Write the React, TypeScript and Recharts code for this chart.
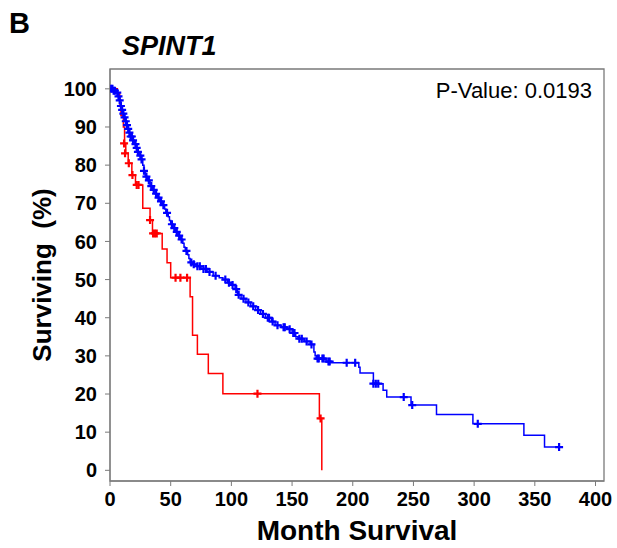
import React from "react";
import {
   ComposedChart,
   Line,
   Scatter,
   XAxis,
   YAxis,
   ReferenceArea,
   Label,
} from "recharts";

// axis setup
const xTicks = [0, 50, 100, 150, 200, 250, 300, 350, 400];
const yTicks = [0, 10, 20, 30, 40, 50, 60, 70, 80, 90, 100];
const xDomain = [0, 407];
const yDomain = [-2.8, 105.2];

// blue group (step start points: month, % surviving)
const blueMonths = [
   0, 3, 5, 7, 8, 9, 10, 11, 12, 13, 14, 15, 16, 17, 19, 20, 22, 23, 24, 26,
   27, 28, 29, 31, 33, 35, 37, 39, 41, 43, 45, 46, 48, 49, 50, 52, 54, 56, 58,
   60, 61, 62, 64, 65, 66, 68, 71, 75, 80, 85, 90, 93, 97, 100, 103, 105, 108,
   112, 116, 120, 124, 128, 133, 136, 141, 146, 150, 153, 155, 160, 165, 168,
   169, 170, 178, 182, 205, 206, 217, 225, 228, 248, 269, 299, 341, 358, 371,
];
const blueSurv = [
   100, 99.5, 99, 98, 97, 95.5, 94.5, 93.5, 92.5, 91.5, 90.5, 89.5, 88.5,
   87.5, 86.5, 85.5, 84.5, 83.5, 82.5, 81.5, 80, 78.5, 77, 76, 74.5, 73.5,
   72.5, 71.5, 70.5, 69.5, 68.5, 67.5, 66.5, 65.5, 64.5, 63.5, 62.5, 61.5,
   60.5, 59.5, 58.5, 57.5, 56.5, 55.5, 54.5, 54, 53.5, 52.8, 52, 51, 50.5, 50,
   49.2, 48.6, 47.5, 46, 45, 44, 43, 42, 41, 40, 39, 38, 37.5, 37, 36, 35,
   34.5, 33.8, 33, 31, 30, 29.3, 28.5, 28.2, 27, 25.5, 22.7, 21, 19.2, 17.1,
   14.6, 12.2, 9.2, 6.1, 6.1,
];
const blueCensorMonths = [
   1, 2, 3, 4, 6, 7, 8, 9, 10, 11, 12, 13, 14, 15, 16, 17, 18, 19, 21, 22, 23,
   25, 26, 28, 30, 32, 34, 36, 38, 40, 42, 44, 47, 51, 53, 55, 57, 59, 63, 67,
   69, 72, 74, 77, 79, 82, 87, 95, 98, 101, 104, 106, 110, 114, 118, 122, 126,
   130, 131, 134, 138, 143, 144, 148, 151, 152, 156, 158, 162, 166, 171, 172,
   175, 176, 180, 181, 195, 202, 217, 219, 221, 242, 249, 303, 370,
];
const blueCensorSurv = [
   100, 100, 99.5, 99.5, 99, 98, 97, 95.5, 94.5, 93.5, 92.5, 91.5, 90.5, 89.5,
   88.5, 87.5, 87.5, 86.5, 85.5, 84.5, 83.5, 82.5, 81.5, 78.5, 77, 76, 74.5,
   73.5, 72.5, 71.5, 70.5, 69.5, 67.5, 64.5, 63.5, 62.5, 61.5, 60.5, 57.5,
   54.5, 54, 53.5, 53.5, 52.8, 52.8, 52, 51, 50, 49.2, 48.6, 47.5, 46, 45, 44,
   43, 42, 41, 40, 40, 39, 38, 37.5, 37.5, 37, 36, 36, 34.5, 34.5, 33.8, 33,
   29.3, 29.3, 29.3, 29.3, 28.5, 28.5, 28.2, 28.2, 22.7, 22.7, 22.7, 19.2,
   17.1, 12.2, 6.1,
];

// red group
const redMonths = [
   0, 6, 8, 9, 11, 12, 13, 15, 18, 21, 27, 33, 35, 43, 47, 50, 66, 68, 72, 81,
   93, 172.5, 174.5,
];
const redSurv = [
   100, 99, 96, 93, 90, 85.7, 83.1, 80.5, 77.4, 74.8, 68.7, 65.6, 62.1, 58,
   54.4, 50.5, 45.5, 35.4, 30.4, 25.4, 20.1, 13.6, 0,
];
const redCensorMonths = [
   11.6, 12.4, 15.5, 18.5, 22, 23.5, 33, 35.5, 37, 38.5, 54, 58, 63.5, 121.5,
   173.5,
];
const redCensorSurv = [
   85.7, 83.1, 80.5, 77.4, 74.8, 74.8, 65.6, 62.1, 62.1, 62.1, 50.5, 50.5,
   50.5, 20.1, 13.6,
];

const pairUp = function (months: number[], surv: number[]) {
   return months.map(function (t, i) {
      return { t: t, s: surv[i] };
   });
};

const blueCurve = pairUp(blueMonths, blueSurv);
const blueCensored = pairUp(blueCensorMonths, blueCensorSurv);
const redCurve = pairUp(redMonths, redSurv);
const redCensored = pairUp(redCensorMonths, redCensorSurv);

const FONT = "'Liberation Sans', Arial, sans-serif";
const BLUE = "#0000ff";
const RED = "#ff0000";
const FRAME = "#7a7a7a";

const plusMark = function (color: string) {
   return function (props: any) {
      const { cx, cy } = props;
      if (cx == null || cy == null) return <g />;
      return (
         <path
            d={`M${cx - 4},${cy}h8M${cx},${cy - 4}v8`}
            stroke={color}
            strokeWidth={2.2}
            fill="none"
         />
      );
   };
};

const tickStyle = {
   fontSize: 20,
   fontWeight: 700,
   fill: "#000",
   fontFamily: FONT,
};

export default function App() {
   return (
      <div
         style={{
            position: "absolute",
            left: 0,
            top: 0,
            width: 617,
            height: 548,
            background: "#fff",
            fontFamily: FONT,
         }}
      >
         <ComposedChart
            width={617}
            height={548}
            margin={{ top: 69, right: 13, left: 60, bottom: 37 }}
         >
            <XAxis
               type="number"
               dataKey="t"
               domain={xDomain}
               ticks={xTicks}
               allowDataOverflow
               height={30}
               tickSize={5}
               tickMargin={6}
               stroke={FRAME}
               tick={tickStyle}
            >
               <Label
                  content={function (props: any) {
                     const vb = props.viewBox;
                     return (
                        <text
                           x={vb.x + vb.width / 2}
                           y={vb.y + 59}
                           textAnchor="middle"
                           fontSize={28}
                           fontWeight={700}
                           fontFamily={FONT}
                           fill="#000"
                        >
                           Month Survival
                        </text>
                     );
                  }}
               />
            </XAxis>
            <YAxis
               type="number"
               dataKey="s"
               domain={yDomain}
               ticks={yTicks}
               allowDataOverflow
               width={50}
               tickSize={5}
               tickMargin={8}
               stroke={FRAME}
               tick={tickStyle}
            >
               <Label
                  content={function (props: any) {
                     const vb = props.viewBox;
                     const cx = vb.x - 18;
                     const cy = vb.y + vb.height / 2;
                     return (
                        <text
                           x={cx}
                           y={cy}
                           transform={`rotate(-90 ${cx} ${cy})`}
                           textAnchor="middle"
                           dominantBaseline="central"
                           fontSize={26}
                           fontWeight={700}
                           fontFamily={FONT}
                           fill="#000"
                           style={{ whiteSpace: "pre" }}
                        >
                           {"Surviving  (%)"}
                        </text>
                     );
                  }}
               />
            </YAxis>
            <ReferenceArea
               x1={xDomain[0]}
               x2={xDomain[1]}
               y1={yDomain[0]}
               y2={yDomain[1]}
               fill="none"
               stroke={FRAME}
               strokeWidth={1.3}
            />
            <Line
               data={blueCurve}
               dataKey="s"
               type="stepAfter"
               stroke={BLUE}
               strokeWidth={1.5}
               dot={false}
               activeDot={false}
               isAnimationActive={false}
            />
            <Scatter
               data={blueCensored}
               fill={BLUE}
               shape={plusMark(BLUE)}
               isAnimationActive={false}
            />
            <Line
               data={redCurve}
               dataKey="s"
               type="stepAfter"
               stroke={RED}
               strokeWidth={1.5}
               dot={false}
               activeDot={false}
               isAnimationActive={false}
            />
            <Scatter
               data={redCensored}
               fill={RED}
               shape={plusMark(RED)}
               isAnimationActive={false}
            />
         </ComposedChart>
         <svg
            width={617}
            height={548}
            style={{ position: "absolute", left: 0, top: 0, pointerEvents: "none" }}
         >
            <text
               x={9}
               y={33}
               fontSize={29}
               fontWeight={700}
               fontFamily={FONT}
               fill="#000"
            >
               B
            </text>
            <text
               x={122}
               y={55}
               fontSize={27}
               fontWeight={700}
               fontStyle="italic"
               fontFamily={FONT}
               fill="#000"
            >
               SPINT1
            </text>
            <text
               x={592}
               y={98}
               textAnchor="end"
               fontSize={22}
               fontFamily={FONT}
               fill="#000"
            >
               P-Value: 0.0193
            </text>
         </svg>
      </div>
   );
}
